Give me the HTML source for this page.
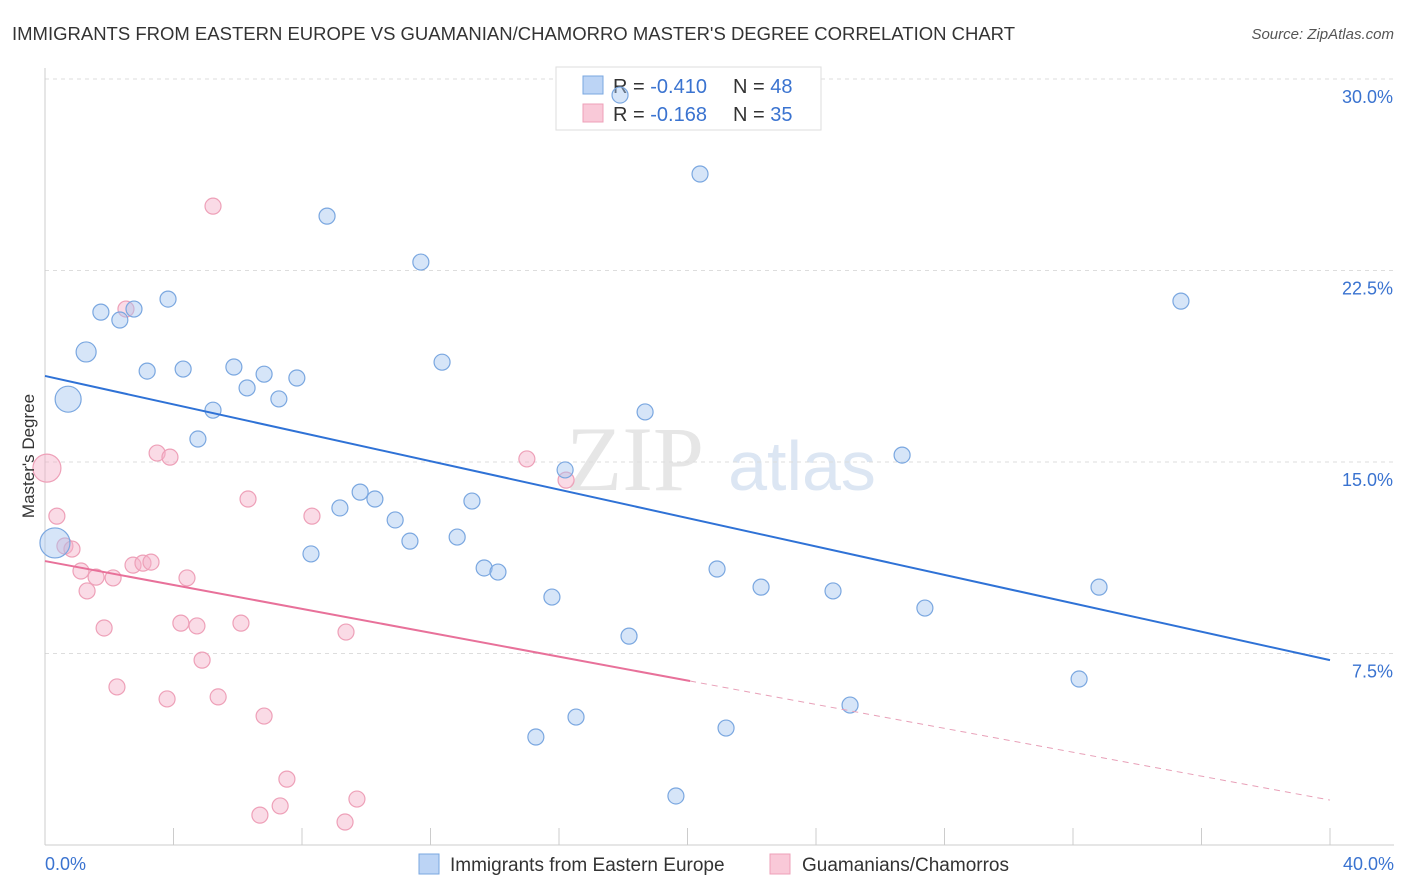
<!DOCTYPE html>
<html><head><meta charset="utf-8"><style>
body{margin:0;background:#fff;font-family:"Liberation Sans",sans-serif}
svg{display:block}
</style></head><body>
<svg id="chart" width="1406" height="892">
<text x="12" y="40" font-size="18" fill="#333" textLength="1003" lengthAdjust="spacingAndGlyphs">IMMIGRANTS FROM EASTERN EUROPE VS GUAMANIAN/CHAMORRO MASTER'S DEGREE CORRELATION CHART</text>
<text x="1394" y="39" font-size="15" fill="#555" text-anchor="end" font-style="italic">Source: ZipAtlas.com</text>
<g>
<text x="635" y="490" font-size="92" fill="#e6e6e6" font-family="Liberation Serif,serif" text-anchor="middle">ZIP</text>
<text x="802" y="490" font-size="70" fill="#dce6f3" text-anchor="middle">atlas</text>
</g>
<g id="grid"></g>
<g id="axes"></g>
<g>
<rect x="556" y="67" width="265" height="63" fill="#fff" stroke="#ddd"/>
<rect x="583" y="76" width="20" height="18" fill="#bcd4f5" stroke="#7aa7e0"/>
<rect x="583" y="104" width="20" height="18" fill="#f9c9d8" stroke="#eea0b8"/>
<text x="613" y="93" font-size="20" fill="#333">R = <tspan fill="#3a73d0">-0.410</tspan><tspan x="733">N = </tspan><tspan fill="#3a73d0">48</tspan></text>
<text x="613" y="121" font-size="20" fill="#333">R = <tspan fill="#3a73d0">-0.168</tspan><tspan x="733">N = </tspan><tspan fill="#3a73d0">35</tspan></text>
</g>
<g id="marks"></g>
<text transform="translate(34,456) rotate(-90)" font-size="17" fill="#333" text-anchor="middle">Master's Degree</text>
<g>
<rect x="419" y="854" width="20" height="20" fill="#bcd4f5" stroke="#7aa7e0"/>
<text x="450" y="871" font-size="19" fill="#333">Immigrants from Eastern Europe</text>
<rect x="770" y="854" width="20" height="20" fill="#f9c9d8" stroke="#eea0b8"/>
<text x="802" y="871" font-size="19" fill="#333">Guamanians/Chamorros</text>
</g>
</svg>
<script>
const blueX=[0.31,0.72,1.28,1.74,2.33,2.77,3.83,3.18,4.30,5.23,4.76,5.88,6.29,6.82,7.28,7.84,8.78,11.70,12.36,8.28,9.18,9.81,10.27,10.90,11.36,12.83,13.29,13.67,14.10,15.78,16.19,18.68,20.39,20.92,22.29,24.53,26.68,27.39,32.81,32.19,35.36,18.18,15.28,16.53,21.20,19.64,25.06,17.90];
const blueY=[11.83,17.46,19.31,20.87,20.56,20.99,21.38,18.56,18.64,17.03,15.90,18.72,17.90,18.44,17.47,18.29,24.63,22.83,18.91,11.40,13.20,13.82,13.55,12.73,11.90,12.06,13.47,10.85,10.69,9.71,14.69,16.96,26.28,10.81,10.10,9.95,15.27,9.28,10.10,6.50,21.30,8.18,4.23,5.01,4.58,1.92,5.48,29.37];
const pinkX=[0.06,0.37,0.62,0.84,1.12,1.31,1.59,1.84,2.12,2.24,2.52,3.49,3.89,2.74,3.05,3.30,3.80,4.42,4.23,4.73,4.89,5.23,5.39,6.10,6.32,6.82,6.69,7.32,7.53,8.31,9.37,9.71,9.34,15.00,16.22];
const pinkY=[14.76,12.88,11.71,11.59,10.73,9.95,10.49,8.50,10.46,6.19,20.99,15.35,15.19,10.96,11.04,11.08,5.72,10.46,8.69,8.58,7.24,25.02,5.80,8.69,13.55,5.05,1.17,1.53,2.58,12.88,8.34,1.80,0.90,15.12,14.29];
const blueTrend=[18.37,7.24];
const pinkTrend=[11.12,1.76];
const pinkSolidEnd=20.08;
const yTicks=[7.5,15.0,22.5,30.0];
const yTickLabels=["7.5%","15.0%","22.5%","30.0%"];
const xTicks=[0,4,8,12,16,20,24,28,32,36,40];
const NS='http://www.w3.org/2000/svg';
const X=v=>45+v/40*1285;
const Y=v=>845-v/7.5*191.5;
function mk(tag,attrs,parent){const e=document.createElementNS(NS,tag);for(const k in attrs)e.setAttribute(k,attrs[k]);document.getElementById(parent).appendChild(e);return e;}
yTicks.forEach((t,i)=>{
 const g=mk('line',{x1:45,x2:1394,y1:Y(t),y2:Y(t),stroke:'#ddd','stroke-dasharray':'4,4'},'grid');
 
 
 const l=mk('text',{x:1393,y:Y(t)+24,'font-size':18,fill:'#3a73d0','text-anchor':'end'},'axes');
 l.textContent=yTickLabels[i];
 
 
});
const ax=mk('line',{x1:45,x2:1394,y1:845,y2:845,stroke:'#ccc'},'axes');


const ay=mk('line',{x1:45,x2:45,y1:68,y2:845,stroke:'#ccc'},'axes');


xTicks.forEach(t=>{
 const tk=mk('line',{x1:X(t),x2:X(t),y1:828,y2:845,stroke:'#ccc'},'axes');
 
 
});
const x0=mk('text',{x:45,y:870,'font-size':18,fill:'#3a73d0'},'axes');x0.textContent='0.0%';


const x1=mk('text',{x:1394,y:870,'font-size':18,fill:'#3a73d0','text-anchor':'end'},'axes');x1.textContent='40.0%';


pinkX.forEach((v,i)=>{
 const c=mk('circle',{cx:X(v),cy:Y(pinkY[i]),r:i===0?14:8,fill:'rgba(245,175,200,0.45)',stroke:'#eea0b8','stroke-width':1.2},'marks');
 
 
});
blueX.forEach((v,i)=>{
 const big=(i===0||i===1)?13:(i===2?10:8);
 const c=mk('circle',{cx:X(v),cy:Y(blueY[i]),r:i===0?15:big,fill:'rgba(165,198,240,0.45)',stroke:'#7aa7e0','stroke-width':1.2},'marks');
 
 
});
const pAt=x=>pinkTrend[0]+(pinkTrend[1]-pinkTrend[0])*x/40;
const bl=mk('line',{x1:X(0),y1:Y(blueTrend[0]),x2:X(40),y2:Y(blueTrend[1]),stroke:'#2f72d6','stroke-width':2},'marks');


const pl=mk('line',{x1:X(0),y1:Y(pinkTrend[0]),x2:X(pinkSolidEnd),y2:Y(pAt(pinkSolidEnd)),stroke:'#e8719a','stroke-width':2},'marks');


const pd=mk('line',{x1:X(pinkSolidEnd),y1:Y(pAt(pinkSolidEnd)),x2:X(40),y2:Y(pinkTrend[1]),stroke:'#e8a0b8','stroke-width':1,'stroke-dasharray':'6,5'},'marks');


</script>
</body></html>
